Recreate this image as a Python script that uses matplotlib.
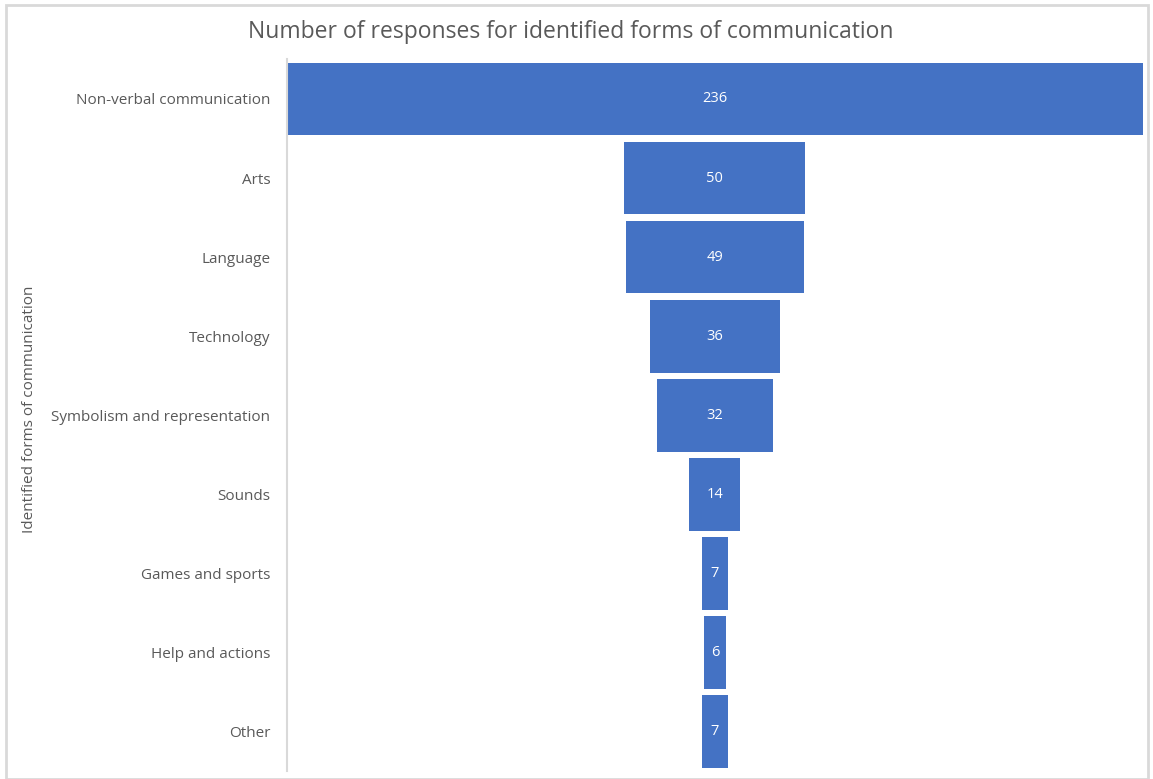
import matplotlib.pyplot as plt
from matplotlib.patches import Rectangle

# Data
categories = ['Non-verbal communication', 'Arts', 'Language', 'Technology',
              'Symbolism and representation', 'Sounds', 'Games and sports',
              'Help and actions', 'Other']
counts = [236, 50, 49, 36, 32, 14, 7, 6, 7]

plt.rcParams['font.family'] = ['Open Sans', 'DejaVu Sans']

fig = plt.figure(figsize=(11.53, 7.79), dpi=100)
ax = fig.add_axes([0.249, 0.0102, 0.742, 0.9135])

# funnel: centre each bar on zero
lefts = [-c / 2 for c in counts]
ypos = list(range(len(categories)))
ax.barh(ypos, counts, left=lefts, height=0.92, color='#4472C4')

for y, c in zip(ypos, counts):
    ax.text(0, y, str(c), ha='center', va='center', color='white', fontsize=10.5)

ax.set_xlim(-118, 118)
ax.set_ylim(len(categories) - 0.5, -0.5)
ax.set_yticks(ypos)
ax.set_yticklabels(categories, fontsize=11, color='#595959')
ax.tick_params(axis='y', length=0, pad=12)
ax.set_xticks([])
for s in ['top', 'right', 'bottom']:
    ax.spines[s].set_visible(False)
ax.spines['left'].set_color('#d9d9d9')
ax.spines['left'].set_linewidth(1.5)

fig.text(0.026, 0.475, 'Identified forms of communication', rotation=90,
         ha='center', va='center', fontsize=11, color='#595959')
fig.text(0.495, 0.959, 'Number of responses for identified forms of communication',
         ha='center', va='center', fontsize=16.5, color='#595959')

# chart border
fig.patches.append(Rectangle((0.0055, 0.0), 0.99, 0.9935, transform=fig.transFigure,
                             fill=False, edgecolor='#d9d9d9', linewidth=2))

fig.savefig('out.png', dpi=100)
